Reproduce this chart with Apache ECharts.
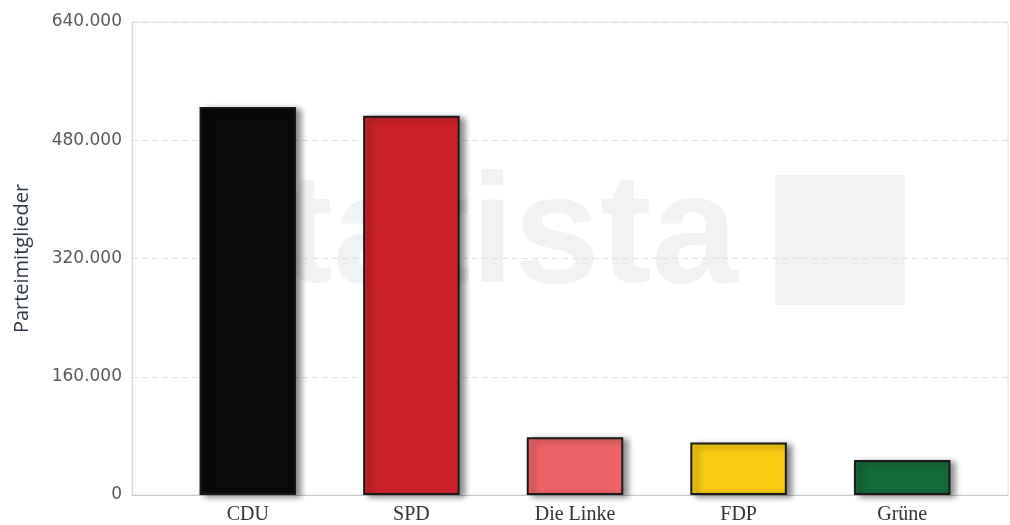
<!DOCTYPE html>
<html lang="de">
<head>
    <meta charset="UTF-8">
    <title>Parteimitglieder</title>
    <style>
        html, body {
            margin: 0;
            height: 100%;
            background: #fff;
        }
        #main {
            width: 1010px;
            height: 525px;
        }
    </style>
    <script src="https://cdn.jsdelivr.net/npm/echarts@6/dist/echarts.min.js"></script>
</head>
<body>
    <div id="main"></div>
    <script>
        const parties = ['CDU', 'SPD', 'Die Linke', 'FDP', 'Grüne']
        const members = [525000, 513000, 78000, 71000, 47500]
        const partyColors = ['#0a0a0a', '#cd2129', '#ee6466', '#f9cb12', '#146a38']
        const yTicks = [0, 160000, 320000, 480000, 640000]

        const myChart = echarts.init(document.getElementById('main'))

        function fmt (v) {
            return String(v).replace(/\B(?=(\d{3})+(?!\d))/g, '.')
        }

        const yMin = yTicks[0]
        const yMax = yTicks[yTicks.length - 1]
        const step = yTicks[1] - yTicks[0]

        const options = {
            animation: false,
            graphic: [
                // faint watermark behind the bars
                {
                    type: 'text', left: 195, top: 162, z: -10,
                    style: { text: 'statista', fill: '#f1f2f4', font: 'bold 155px "Liberation Sans Narrow", "Liberation Sans"' }
                },
                {
                    type: 'rect', left: 775, top: 175, z: -10,
                    shape: { width: 130, height: 130 },
                    style: { fill: '#f1f2f4' }
                }
            ],
            grid: [
                // frame grid: axes, gridlines
                { left: 132, right: 2, top: 22, bottom: 30, show: true, borderColor: '#e2e2e2', borderWidth: 1 },
                // bar grid, inset like the reference
                { left: 166, right: 26, top: 22, bottom: 30 }
            ],
            xAxis: [
                {
                    gridIndex: 0, type: 'value', min: 0, max: 1,
                    axisLine: { show: true, lineStyle: { color: '#c8c8c8' } },
                    axisTick: { show: false }, axisLabel: { show: false }, splitLine: { show: false }
                },
                {
                    gridIndex: 1, type: 'category', data: parties,
                    axisLine: { show: false }, axisTick: { show: false },
                    axisLabel: { margin: 10, color: '#333', fontSize: 20, fontFamily: 'Liberation Serif' }
                }
            ],
            yAxis: [
                {
                    gridIndex: 0, type: 'value', min: yMin, max: yMax, interval: step,
                    name: 'Parteimitglieder', nameLocation: 'middle', nameGap: 100,
                    nameTextStyle: { color: '#2e3a4a', fontSize: 20, fontFamily: 'Open Sans' },
                    axisLine: { show: true, lineStyle: { color: '#d8d8d8' } },
                    axisTick: { show: false },
                    axisLabel: { margin: 10, color: '#5a5a5a', fontSize: 17, fontFamily: 'DejaVu Sans', formatter: fmt },
                    splitLine: { show: true, lineStyle: { color: '#e0e0e0', type: [6, 4] } }
                },
                {
                    gridIndex: 1, type: 'value', min: yMin, max: yMax, interval: step,
                    show: false, splitLine: { show: false }
                }
            ],
            series: [{
                type: 'bar',
                xAxisIndex: 1,
                yAxisIndex: 1,
                barCategoryGap: '41%',
                data: members.map((v, i) => ({
                    value: v,
                    itemStyle: {
                        color: partyColors[i],
                        borderColor: '#1a1a1a',
                        borderWidth: 2,
                        shadowColor: 'rgba(0,0,0,0.45)',
                        shadowBlur: 6,
                        shadowOffsetX: 5,
                        shadowOffsetY: 2
                    }
                }))
            }]
        }

        myChart.setOption(options)
    </script>
</body>
</html>
